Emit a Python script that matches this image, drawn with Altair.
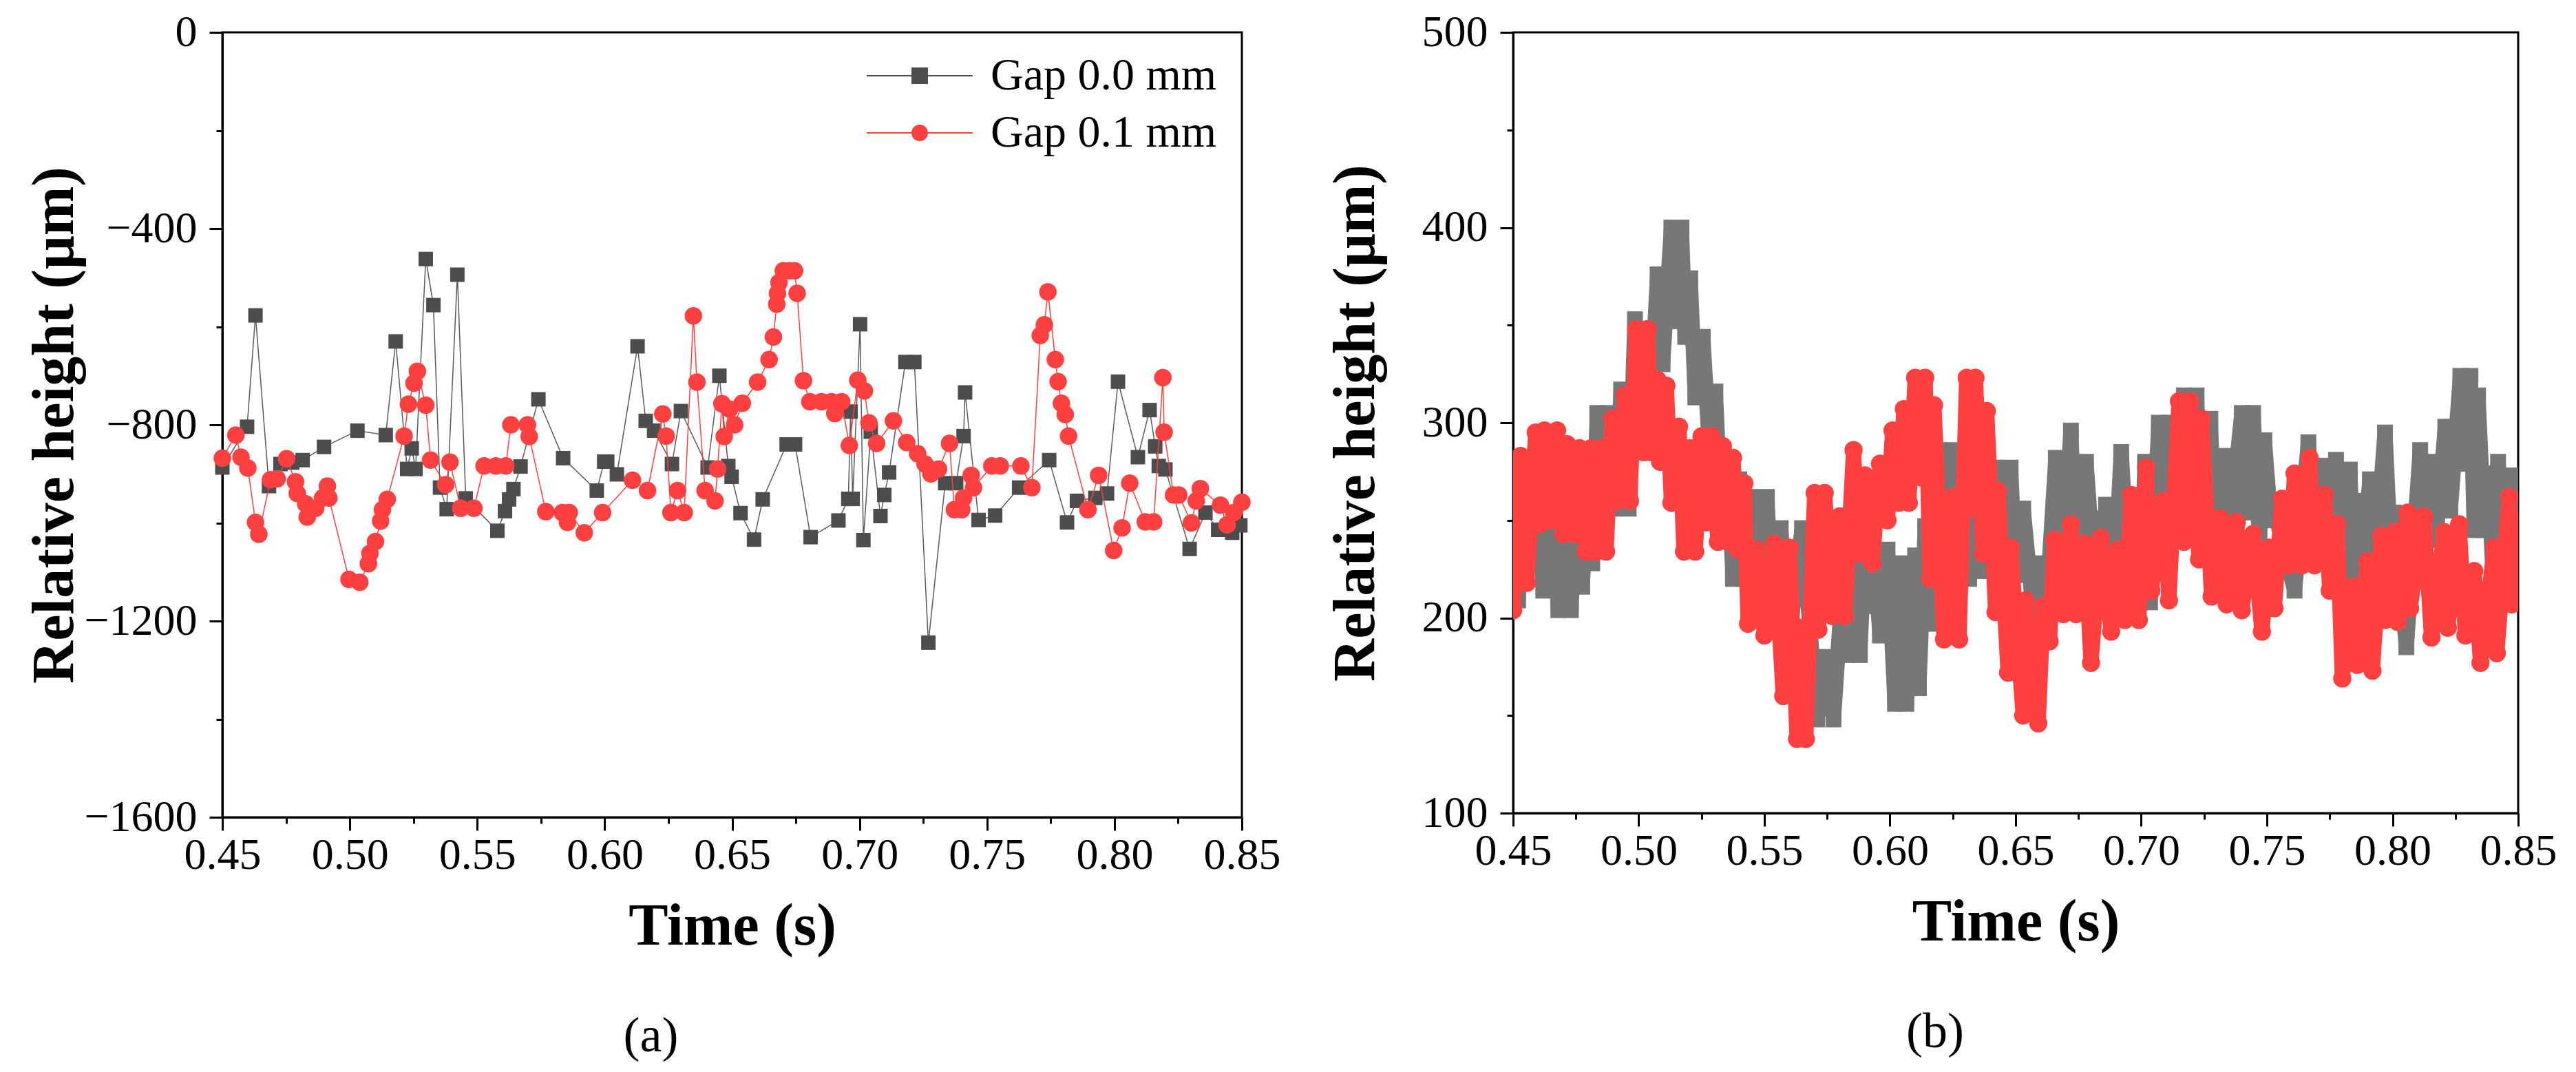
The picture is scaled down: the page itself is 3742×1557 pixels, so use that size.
import altair as alt
import pandas as pd

SERIES = ["Gap 0.0 mm", "Gap 0.1 mm"]
FONT = "Liberation Serif"

# ---- panel (a): sampled heights, Gap 0.0 mm (squares) ----
A_T0 = [0.4500, 0.4597, 0.4630, 0.4683, 0.4728, 0.4774, 0.4815, 0.4899, 0.5030, 0.5141,
        0.5180, 0.5225, 0.5243, 0.5258, 0.5298, 0.5328, 0.5354, 0.5380, 0.5422, 0.5455,
        0.5579, 0.5609, 0.5625, 0.5642, 0.5670, 0.5740, 0.5837, 0.5969, 0.5998, 0.6010,
        0.6048, 0.6129, 0.6161, 0.6194, 0.6264, 0.6299, 0.6404, 0.6450, 0.6485, 0.6498,
        0.6533, 0.6586, 0.6620, 0.6714, 0.6747, 0.6808, 0.6917, 0.6956, 0.6965, 0.6973,
        0.7002, 0.7015, 0.7044, 0.7082, 0.7097, 0.7116, 0.7180, 0.7215, 0.7270, 0.7336,
        0.7379, 0.7408, 0.7414, 0.7467, 0.7532, 0.7626, 0.7744, 0.7814, 0.7853, 0.7925,
        0.7971, 0.8014, 0.8092, 0.8138, 0.8160, 0.8174, 0.8200, 0.8295, 0.8357, 0.8407,
        0.8462, 0.8494]
A_V0 = [-887, -804, -577, -925, -880, -877, -872, -845, -812, -821,
        -630, -890, -848, -890, -462, -556, -928, -972, -494, -950,
        -1016, -976, -952, -931, -885, -748, -868, -934, -875, -875,
        -901, -640, -792, -812, -880, -772, -887, -700, -884, -906,
        -980, -1034, -952, -840, -840, -1029, -995, -951, -773, -951,
        -595, -1035, -814, -986, -943, -897, -672, -672, -1244, -919,
        -919, -823, -734, -994, -985, -928, -872, -999, -955, -949,
        -940, -712, -866, -770, -844, -884, -891, -1053, -979, -1014,
        -1020, -1005]

# ---- panel (a): Gap 0.1 mm (circles) ----
A_T1 = [0.4500, 0.4553, 0.4573, 0.4600, 0.4630, 0.4643, 0.4689, 0.4715, 0.4752, 0.4787,
        0.4794, 0.4827, 0.4833, 0.4866, 0.4893, 0.4912, 0.4918, 0.4997, 0.5039, 0.5073,
        0.5079, 0.5101, 0.5121, 0.5128, 0.5147, 0.5213, 0.5230, 0.5252, 0.5265, 0.5298,
        0.5317, 0.5376, 0.5393, 0.5435, 0.5487, 0.5527, 0.5573, 0.5612, 0.5632, 0.5697,
        0.5704, 0.5769, 0.5834, 0.5854, 0.5861, 0.5920, 0.5992, 0.6109, 0.6168, 0.6228,
        0.6241, 0.6260, 0.6286, 0.6312, 0.6348, 0.6362, 0.6394, 0.6433, 0.6443, 0.6460,
        0.6469, 0.6490, 0.6510, 0.6540, 0.6600, 0.6645, 0.6662, 0.6675, 0.6678, 0.6684,
        0.6701, 0.6725, 0.6745, 0.6755, 0.6780, 0.6805, 0.6851, 0.6890, 0.6903, 0.6930,
        0.6960, 0.6993, 0.7019, 0.7037, 0.7067, 0.7133, 0.7185, 0.7228, 0.7257, 0.7280,
        0.7310, 0.7353, 0.7372, 0.7401, 0.7408, 0.7438, 0.7447, 0.7519, 0.7552, 0.7633,
        0.7676, 0.7709, 0.7725, 0.7739, 0.7768, 0.7779, 0.7792, 0.7807, 0.7820, 0.7896,
        0.7938, 0.7997, 0.8030, 0.8060, 0.8121, 0.8154, 0.8190, 0.8195, 0.8232, 0.8252,
        0.8302, 0.8321, 0.8337, 0.8416, 0.8442, 0.8468, 0.8500]
A_V1 = [-868, -821, -866, -888, -999, -1023, -912, -910, -869, -916,
        -940, -961, -988, -970, -949, -925, -949, -1115, -1121, -1083,
        -1062, -1038, -996, -973, -952, -823, -758, -715, -691, -760,
        -872, -922, -876, -970, -970, -884, -884, -884, -800, -800,
        -824, -977, -979, -999, -979, -1020, -979, -913, -934, -778,
        -823, -979, -934, -979, -578, -713, -934, -955, -890, -757,
        -824, -768, -800, -756, -713, -667, -621, -554, -532, -510,
        -486, -486, -486, -532, -710, -753, -753, -753, -777, -753,
        -842, -709, -731, -796, -838, -792, -836, -859, -880, -900,
        -890, -838, -973, -973, -949, -903, -928, -884, -884, -884,
        -928, -618, -596, -529, -667, -712, -756, -779, -823, -973,
        -903, -1056, -1010, -919, -998, -998, -704, -815, -943, -943,
        -1000, -955, -930, -964, -1004, -979, -958]

# ---- panel (b): dense signal, turning points of the thick traces ----
B_T0 = [0.4500, 0.4520, 0.4545, 0.4575, 0.4600, 0.4620, 0.4645, 0.4680, 0.4705, 0.4730,
        0.4760, 0.4775, 0.4805, 0.4815, 0.4835, 0.4860, 0.4880, 0.4905, 0.4930, 0.4960,
        0.4985, 0.5000, 0.5030, 0.5045, 0.5075, 0.5095, 0.5130, 0.5150, 0.5170, 0.5185,
        0.5205, 0.5225, 0.5255, 0.5280, 0.5305, 0.5325, 0.5355, 0.5375, 0.5400, 0.5420,
        0.5450, 0.5470, 0.5510, 0.5530, 0.5565, 0.5600, 0.5650, 0.5710, 0.5740, 0.5775,
        0.5810, 0.5830, 0.5860, 0.5880, 0.5900, 0.5915, 0.5935, 0.5960, 0.5990, 0.6020,
        0.6045, 0.6065, 0.6100, 0.6115, 0.6140, 0.6160, 0.6195, 0.6230, 0.6250, 0.6275,
        0.6300, 0.6315, 0.6340, 0.6370, 0.6420, 0.6450, 0.6480, 0.6500, 0.6530, 0.6575,
        0.6600, 0.6620, 0.6660, 0.6680, 0.6720, 0.6740, 0.6780, 0.6810, 0.6825, 0.6850,
        0.6860, 0.6890, 0.6920, 0.6950, 0.6970, 0.6995, 0.7015, 0.7035, 0.7070, 0.7090,
        0.7110, 0.7130, 0.7170, 0.7195, 0.7220, 0.7240, 0.7275, 0.7290, 0.7330, 0.7360,
        0.7400, 0.7420, 0.7445, 0.7470, 0.7490, 0.7515, 0.7530, 0.7610, 0.7665, 0.7690,
        0.7720, 0.7750, 0.7775, 0.7800, 0.7830, 0.7845, 0.7870, 0.7880, 0.7910, 0.7930,
        0.7970, 0.7990, 0.8005, 0.8055, 0.8110, 0.8140, 0.8160, 0.8175, 0.8210, 0.8230,
        0.8270, 0.8290, 0.8310, 0.8325, 0.8340, 0.8365, 0.8380, 0.8400, 0.8420, 0.8450,
        0.8480, 0.8495, 0.8500]
B_V0 = [271, 209, 276, 232, 280, 214, 281, 204, 278, 204,
        281, 216, 281, 228, 305, 249, 305, 256, 317, 256,
        353, 296, 348, 304, 376, 330, 400, 352, 400, 344,
        374, 313, 344, 290, 316, 260, 282, 220, 271, 220,
        262, 214, 262, 209, 246, 190, 246, 148, 180, 148,
        215, 181, 245, 181, 240, 206, 236, 191, 235, 156,
        228, 156, 232, 164, 247, 197, 286, 245, 286, 230,
        270, 220, 260, 224, 277, 228, 277, 222, 256, 196,
        228, 200, 282, 215, 296, 220, 280, 228, 251, 215,
        258, 210, 285, 220, 263, 208, 280, 208, 300, 230,
        300, 240, 314, 250, 314, 255, 302, 250, 283, 254,
        305, 254, 305, 240, 291, 250, 255, 214, 290, 240,
        278, 225, 281, 235, 276, 223, 260, 230, 271, 228,
        295, 240, 254, 185, 286, 240, 280, 244, 298, 255,
        324, 279, 324, 245, 314, 245, 274, 222, 280, 215,
        273, 212, 250]

B_T1 = [0.4500, 0.4530, 0.4555, 0.4590, 0.4605, 0.4625, 0.4650, 0.4675, 0.4700, 0.4715,
        0.4740, 0.4765, 0.4790, 0.4810, 0.4830, 0.4855, 0.4870, 0.4895, 0.4915, 0.4945,
        0.4965, 0.4990, 0.5020, 0.5035, 0.5050, 0.5075, 0.5085, 0.5110, 0.5130, 0.5160,
        0.5180, 0.5205, 0.5225, 0.5250, 0.5270, 0.5290, 0.5315, 0.5335, 0.5355, 0.5375,
        0.5395, 0.5420, 0.5435, 0.5470, 0.5500, 0.5540, 0.5575, 0.5600, 0.5630, 0.5650,
        0.5665, 0.5700, 0.5715, 0.5740, 0.5770, 0.5800, 0.5820, 0.5855, 0.5875, 0.5900,
        0.5930, 0.5960, 0.5990, 0.6010, 0.6035, 0.6055, 0.6075, 0.6100, 0.6125, 0.6140,
        0.6160, 0.6175, 0.6215, 0.6250, 0.6275, 0.6305, 0.6315, 0.6340, 0.6370, 0.6385,
        0.6420, 0.6430, 0.6470, 0.6480, 0.6530, 0.6540, 0.6590, 0.6610, 0.6635, 0.6655,
        0.6690, 0.6720, 0.6740, 0.6775, 0.6800, 0.6840, 0.6880, 0.6910, 0.6935, 0.6960,
        0.6990, 0.7020, 0.7040, 0.7090, 0.7110, 0.7150, 0.7170, 0.7195, 0.7230, 0.7240,
        0.7280, 0.7315, 0.7340, 0.7380, 0.7400, 0.7445, 0.7480, 0.7510, 0.7530, 0.7560,
        0.7590, 0.7610, 0.7640, 0.7670, 0.7690, 0.7730, 0.7750, 0.7780, 0.7800, 0.7845,
        0.7860, 0.7900, 0.7920, 0.7955, 0.7970, 0.8010, 0.8020, 0.8060, 0.8070, 0.8125,
        0.8155, 0.8205, 0.8220, 0.8265, 0.8290, 0.8325, 0.8350, 0.8405, 0.8415, 0.8465,
        0.8475, 0.8500]
B_V1 = [204, 283, 218, 295, 248, 296, 250, 296, 243, 289,
        243, 287, 234, 287, 234, 287, 234, 302, 260, 314,
        260, 348, 285, 348, 285, 322, 280, 319, 259, 298,
        234, 287, 234, 293, 249, 293, 239, 288, 239, 282,
        235, 269, 197, 235, 191, 238, 160, 236, 138, 195,
        138, 264, 194, 264, 201, 252, 201, 286, 233, 273,
        228, 279, 250, 296, 259, 307, 259, 323, 272, 323,
        220, 309, 189, 262, 189, 323, 256, 323, 233, 306,
        203, 265, 172, 236, 150, 209, 146, 206, 188, 240,
        202, 248, 202, 238, 177, 241, 193, 235, 199, 263,
        199, 277, 214, 260, 209, 311, 239, 311, 230, 302,
        211, 251, 207, 249, 204, 243, 193, 236, 205, 261,
        227, 274, 227, 282, 227, 263, 214, 248, 169, 216,
        176, 229, 173, 242, 199, 244, 198, 254, 205, 252,
        190, 244, 195, 248, 191, 224, 177, 236, 182, 262,
        207, 250]

X_TICKS = [0.45, 0.475, 0.5, 0.525, 0.55, 0.575, 0.6, 0.625, 0.65, 0.675,
           0.7, 0.725, 0.75, 0.775, 0.8, 0.825, 0.85]
Y_TICKS_A = [-1600, -1400, -1200, -1000, -800, -600, -400, -200, 0]
Y_TICKS_B = [100, 150, 200, 250, 300, 350, 400, 450, 500]

GRAY_DARK = "#4d4d4d"
GRAY_LINE = "#5a5a5a"
GRAY_B = "#777777"
RED = "#ff4040"

# legend symbols for (a): marker with a line through it
SQ_LINE = "M-1,-1H1V1H-1Z M-6.4,-0.08H6.4V0.08H-6.4Z"
CI_LINE = "M1,0A1,1,0,1,1,-1,0A1,1,0,1,1,1,0Z M-6.4,-0.08H6.4V0.08H-6.4Z"


def x_axis():
    return alt.Axis(
        title="Time (s)", values=X_TICKS, format=".2f",
        labelExpr="round(datum.value * 1000) % 50 == 0 ? datum.label : ''",
        tickSize={"condition": {"test": "round(datum.value * 1000) % 50 != 0", "value": 9}, "value": 19},
        labelPadding=4, titlePadding=29, labelFlush=False, labelOverlap=False,
    )


def y_axis(values, major, title_pad):
    return alt.Axis(
        title="Relative height (μm)", values=values, format="d",
        labelExpr=f"datum.value % {major} == 0 ? datum.label : ''",
        tickSize={"condition": {"test": f"datum.value % {major} != 0", "value": 9}, "value": 19},
        labelPadding=18, titlePadding=title_pad, labelFlush=False, labelOverlap=False,
    )


def legend_layer(shapes, colors, lx, ly, loff):
    leg = alt.Legend(
        title=None, orient="none", legendX=lx, legendY=ly, padding=0,
        labelFont=FONT, labelFontSize=66, labelColor="black", labelLimit=0,
        labelOffset=loff, rowPadding=17, symbolSize=576, symbolStrokeWidth=0,
    )
    return (
        alt.Chart(pd.DataFrame({"series": SERIES}))
        .mark_point(filled=True, opacity=1, size=576)
        .encode(
            color=alt.Color("series:N", scale=alt.Scale(domain=SERIES, range=colors), legend=leg),
            shape=alt.Shape("series:N", scale=alt.Scale(domain=SERIES, range=shapes), legend=leg),
        )
        .transform_filter("false")
    )


# Painel (a)
x_a = alt.X("t:Q", scale=alt.Scale(domain=[0.45, 0.85], nice=False), axis=x_axis())
y_a = alt.Y("v:Q", scale=alt.Scale(domain=[-1600, 0], nice=False), axis=y_axis(Y_TICKS_A, 400, 0))

df_a0 = pd.DataFrame({"t": A_T0, "v": A_V0})
df_a1 = pd.DataFrame({"t": A_T1, "v": A_V1})

base_a0 = alt.Chart(df_a0).encode(x=x_a, y=y_a)
base_a1 = alt.Chart(df_a1).encode(x=x_a, y=y_a)

panel_a = alt.layer(
    base_a0.mark_line(color=GRAY_LINE, strokeWidth=1.5),
    base_a0.mark_point(shape="square", filled=True, size=441, color=GRAY_DARK, opacity=1),
    base_a1.mark_line(color=RED, strokeWidth=1.5),
    base_a1.mark_point(shape="circle", filled=True, size=650, color=RED, opacity=1),
    legend_layer([SQ_LINE, CI_LINE], [GRAY_DARK, RED], 980, 30, 70),
).properties(
    width=1481, height=1140,
    title=alt.TitleParams("(a)", orient="bottom", dx=-118, offset=82, fontSize=72,
                          font=FONT, fontWeight="normal", color="black"),
)

# Painel (b)
x_b = alt.X("t:Q", scale=alt.Scale(domain=[0.45, 0.85], nice=False), axis=x_axis())
y_b = alt.Y("v:Q", scale=alt.Scale(domain=[100, 500], nice=False), axis=y_axis(Y_TICKS_B, 100, 52))

df_b0 = pd.DataFrame({"t": B_T0, "v": B_V0})
df_b1 = pd.DataFrame({"t": B_T1, "v": B_V1})

base_b0 = alt.Chart(df_b0).encode(x=x_b, y=y_b)
base_b1 = alt.Chart(df_b1).encode(x=x_b, y=y_b)

panel_b = alt.layer(
    base_b0.mark_line(color=GRAY_B, strokeWidth=22, strokeJoin="bevel", strokeCap="square", clip=True),
    base_b0.mark_point(shape="square", filled=True, size=530, color=GRAY_B, opacity=1, clip=True),
    base_b1.mark_line(color=RED, strokeWidth=22, strokeJoin="round", strokeCap="round", clip=True),
    base_b1.mark_point(shape="circle", filled=True, size=700, color=RED, opacity=1, clip=True),
    legend_layer(["square", "circle"], [GRAY_B, RED], 999, 30, 85),
).properties(
    width=1460, height=1134,
    title=alt.TitleParams("(b)", orient="bottom", dx=-117, offset=82, fontSize=72,
                          font=FONT, fontWeight="normal", color="black"),
)

chart = (
    alt.hconcat(panel_a, panel_b, spacing=62)
    .properties(padding={"left": 26, "top": 5, "right": 5, "bottom": 5})
    .configure_view(stroke="black", strokeWidth=3)
    .configure_axis(
        grid=False, domainColor="black", domainWidth=3, tickColor="black", tickWidth=3,
        labelFont=FONT, labelFontSize=64, labelColor="black",
        titleFont=FONT, titleFontSize=86, titleFontWeight="bold", titleColor="black",
    )
)

chart.save("out.html", embed_options={"renderer": "svg", "actions": False})
